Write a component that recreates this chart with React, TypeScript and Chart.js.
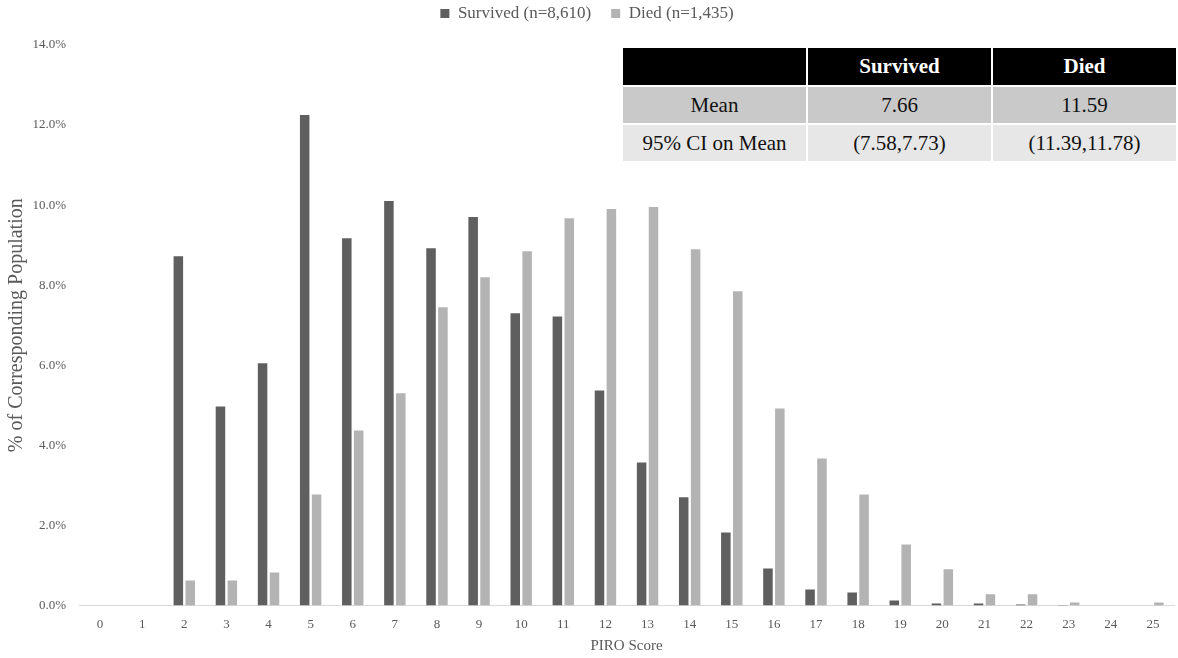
import React, { useEffect, useRef } from "react";
import { Chart, registerables } from "chart.js";

Chart.register(...registerables);

const scores = ["0","1","2","3","4","5","6","7","8","9","10","11","12","13","14","15","16","17","18","19","20","21","22","23","24","25"];
const survived = [0, 0, 8.72, 4.97, 6.05, 12.25, 9.17, 10.1, 8.92, 9.7, 7.3, 7.22, 5.37, 3.57, 2.7, 1.82, 0.92, 0.4, 0.32, 0.12, 0.05, 0.05, 0.02, 0.01, 0, 0];
const died = [0, 0, 0.62, 0.62, 0.82, 2.77, 4.37, 5.3, 7.45, 8.2, 8.85, 9.67, 9.9, 9.95, 8.9, 7.85, 4.92, 3.67, 2.77, 1.52, 0.9, 0.28, 0.28, 0.07, 0, 0.07];
const seriesLabels = ["Survived (n=8,610)", "Died (n=1,435)"];
const yMin = 0;
const yMax = 14;
const yStep = 2;
const xTitle = "PIRO Score";
const yTitle = "% of Corresponding Population";
const tableHeader = ["", "Survived", "Died"];
const tableRows = [
  ["Mean", "7.66", "11.59"],
  ["95% CI on Mean", "(7.58,7.73)", "(11.39,11.78)"],
];

const FONT = "'Liberation Serif', 'Times New Roman', serif";
const TXT = "#595959";

const LEGEND_SHIFT = 15;
const LEGEND_HEIGHT = 45;

const legendTweak = {
  id: "legendTweak",
  beforeInit(chart: any) {
    const lg = chart.legend;
    if (!lg) return;
    const origFit = lg.fit.bind(lg);
    lg.fit = function () {
      origFit();
      this.height = LEGEND_HEIGHT;
    };
    const origDraw = lg.draw.bind(lg);
    lg.draw = function (...args: any[]) {
      const ctx = this.ctx;
      ctx.save();
      ctx.translate(0, -LEGEND_SHIFT);
      origDraw(...args);
      ctx.restore();
    };
  },
};

export default function App() {
  const ref = useRef<HTMLCanvasElement | null>(null);

  useEffect(() => {
    if (!ref.current) return;
    const chart = new Chart(ref.current, {
      type: "bar",
      data: {
        labels: scores,
        datasets: [
          { label: seriesLabels[0], data: survived, backgroundColor: "#5f5f5f", borderWidth: 0 },
          { label: seriesLabels[1], data: died, backgroundColor: "#b3b3b3", borderWidth: 0 },
        ],
      },
      plugins: [legendTweak],
      options: {
        responsive: false,
        animation: false,
        layout: { padding: { left: 0, right: 4, top: 0, bottom: 3 } },
        datasets: { bar: { categoryPercentage: 0.565, barPercentage: 0.8 } },
        plugins: {
          legend: {
            position: "top",
            labels: {
              boxWidth: 9,
              boxHeight: 9,
              color: TXT,
              font: { family: FONT, size: 17 },
              padding: 20,
            },
          },
          tooltip: { enabled: false },
        },
        scales: {
          x: {
            grid: { display: false },
            border: { color: "#d9d9d9", width: 1 },
            ticks: { color: TXT, font: { family: FONT, size: 13 }, maxRotation: 0 },
            title: { display: true, text: xTitle, color: TXT, font: { family: FONT, size: 15 }, padding: { top: 2, bottom: 0 } },
          },
          y: {
            min: yMin,
            max: yMax,
            grid: { display: false },
            border: { display: false },
            ticks: {
              stepSize: yStep,
              color: TXT,
              font: { family: FONT, size: 13 },
              padding: 5,
              callback: (v: any) => Number(v).toFixed(1) + "%",
            },
            title: { display: true, text: yTitle, color: TXT, font: { family: FONT, size: 20 }, padding: { top: 5, bottom: 2 } },
            afterFit: (scale: any) => { scale.width = 79; },
          },
        },
      },
    });
    return () => chart.destroy();
  }, []);

  const cellBase: React.CSSProperties = {
    display: "flex",
    alignItems: "center",
    justifyContent: "center",
    fontFamily: FONT,
    fontSize: 21,
  };

  return (
    <div style={{ position: "absolute", left: 0, top: 0, width: 1178, height: 658 }}>
      <canvas ref={ref} width={1178} height={658} />
      <div
        style={{
          position: "absolute",
          left: 623,
          top: 48,
          width: 553,
          display: "grid",
          gridTemplateColumns: "1fr 1fr 1fr",
          gridTemplateRows: "37px 36px 36px",
          gap: 2,
          background: "#ffffff",
        }}
      >
        {tableHeader.map((h, i) => (
          <div key={"h" + i} style={{ ...cellBase, background: "#000000", color: "#ffffff", fontWeight: "bold" }}>{h}</div>
        ))}
        {tableRows.map((row, r) =>
          row.map((c, i) => (
            <div key={r + "-" + i} style={{ ...cellBase, background: r === 0 ? "#c9c9c9" : "#e7e7e7", color: "#111" }}>{c}</div>
          ))
        )}
      </div>
    </div>
  );
}
